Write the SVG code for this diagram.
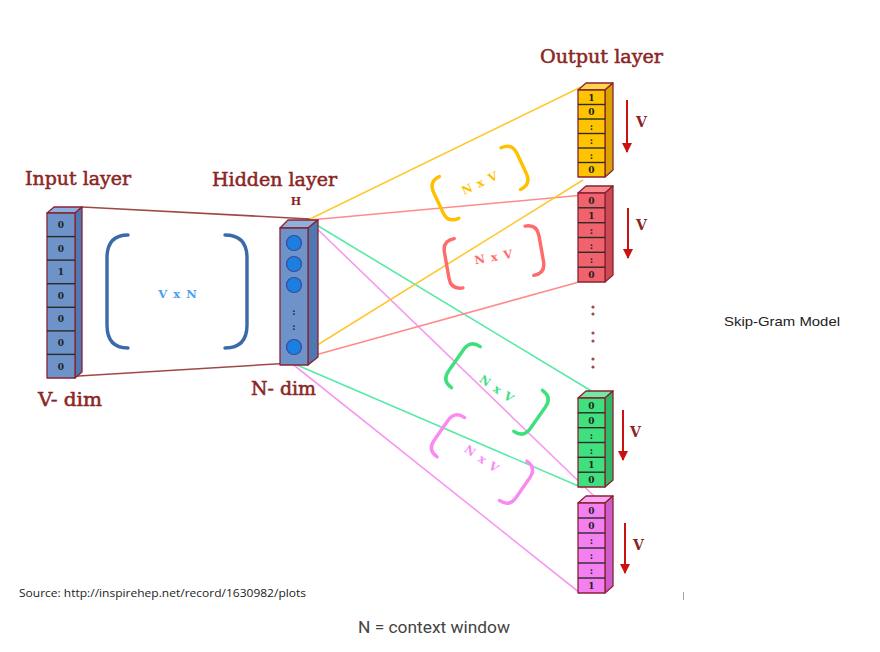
<svg xmlns="http://www.w3.org/2000/svg" width="880" height="652" viewBox="0 0 880 652">
<style>
.title{font-family:"DejaVu Serif","Liberation Serif",serif;font-size:18px;fill:#8b2525;stroke:#8b2525;stroke-width:0.5;}
.dig{font-family:"DejaVu Serif","Liberation Serif",serif;font-size:9px;font-weight:bold;fill:#222;text-anchor:middle;}
.edge{stroke:#8a2232;stroke-width:1.3;stroke-linejoin:round;}
.sep{stroke:#2a2a2a;stroke-width:1.4;}
.br{fill:none;stroke-width:3.4;stroke-linecap:round;}
.brt{font-family:"DejaVu Serif","Liberation Serif",serif;font-size:11.5px;font-weight:bold;text-anchor:middle;letter-spacing:1px;}
.conn{fill:none;stroke-width:1.6;}
.arr{stroke:#cc1111;stroke-width:2;}
.vlab{font-family:"DejaVu Serif","Liberation Serif",serif;font-size:14px;font-weight:bold;fill:#8b2525;}
.dot{fill:#a04a4a;}
</style>
<defs>
<marker id="ah" viewBox="0 0 10 10" refX="9" refY="5" markerWidth="5" markerHeight="6" orient="auto" markerUnits="strokeWidth">
<path d="M0,0 L10,5 L0,10 z" fill="#cc1111"/>
</marker>
</defs>
<rect width="880" height="652" fill="#fff"/>

<g id="connectors">
<line class="conn" x1="82" y1="207" x2="310" y2="219" stroke="#9e4a44" stroke-width="1.5"/>
<line class="conn" x1="62" y1="377" x2="292" y2="363" stroke="#9e4a44" stroke-width="1.5"/>
<line class="conn" x1="310" y1="219" x2="581" y2="87" stroke="#ffc830"/>
<line class="conn" x1="310" y1="220" x2="584" y2="195" stroke="#ff8c8c"/>
<line class="conn" x1="310" y1="221" x2="593" y2="392" stroke="#55eaa5"/>
<line class="conn" x1="310" y1="222" x2="595" y2="497" stroke="#f59af0"/>
<line class="conn" x1="290" y1="362" x2="583" y2="180" stroke="#ffc830"/>
<line class="conn" x1="290" y1="362" x2="579" y2="282" stroke="#ff8c8c"/>
<line class="conn" x1="290" y1="362" x2="583" y2="488" stroke="#55eaa5"/>
<line class="conn" x1="290" y1="362" x2="580" y2="593" stroke="#f59af0"/>
</g>

<g id="input-layer">
<text class="title" x="25" y="185" textLength="106" lengthAdjust="spacingAndGlyphs">Input layer</text>
<polygon class="edge" points="47,213 54,207 82,207 75,213" fill="#8eb0dc"/>
<polygon class="edge" points="75,213 82,207 82,372 75,378" fill="#4f78b2"/>
<rect class="edge" x="47" y="213" width="28" height="165" fill="#6d93c9"/>
<line class="sep" x1="47" y1="236.6" x2="75" y2="236.6"/>
<line class="sep" x1="47" y1="260.1" x2="75" y2="260.1"/>
<line class="sep" x1="47" y1="283.7" x2="75" y2="283.7"/>
<line class="sep" x1="47" y1="307.3" x2="75" y2="307.3"/>
<line class="sep" x1="47" y1="330.9" x2="75" y2="330.9"/>
<line class="sep" x1="47" y1="354.4" x2="75" y2="354.4"/>
<text class="dig" x="61" y="228">0</text>
<text class="dig" x="61" y="252">0</text>
<text class="dig" x="61" y="275">1</text>
<text class="dig" x="61" y="299">0</text>
<text class="dig" x="61" y="322">0</text>
<text class="dig" x="61" y="346">0</text>
<text class="dig" x="61" y="370">0</text>
<text class="title" x="38" y="406" textLength="64" lengthAdjust="spacingAndGlyphs">V- dim</text>
</g>

<g id="weights-vxn">
<path class="br" stroke="#3b6aa8" d="M128,235 Q107,235 107,258 L107,325 Q107,348 128,348"/>
<path class="br" stroke="#3b6aa8" d="M225,235 Q247,235 247,258 L247,325 Q247,348 225,348"/>
<text class="brt" x="178" y="298" fill="#4a9ff0">V x N</text>
</g>

<g id="hidden-layer">
<text class="title" x="212" y="186" textLength="125" lengthAdjust="spacingAndGlyphs">Hidden layer</text>
<text x="296" y="205" font-family="DejaVu Serif, Liberation Serif, serif" font-size="11" font-weight="bold" fill="#8b2525" text-anchor="middle">H</text>
<polygon class="edge" points="280,228 288,220 318,220 308,228" fill="#8eb0dc"/>
<polygon class="edge" points="308,228 318,220 318,357 308,365" fill="#4f78b2"/>
<rect class="edge" x="280" y="228" width="28" height="137" fill="#6d93c9"/>
<circle cx="294" cy="243" r="7.5" fill="#1a7fe0" stroke="#3b4a9a" stroke-width="1.2"/>
<circle cx="294" cy="264" r="7.5" fill="#1a7fe0" stroke="#3b4a9a" stroke-width="1.2"/>
<circle cx="294" cy="285" r="7.5" fill="#1a7fe0" stroke="#3b4a9a" stroke-width="1.2"/>
<circle cx="294" cy="347" r="7.5" fill="#1a7fe0" stroke="#3b4a9a" stroke-width="1.2"/>
<text class="dig" x="294" y="315" fill="#3a3a6a">:</text>
<text class="dig" x="294" y="330" fill="#3a3a6a">:</text>
<text class="title" x="251" y="395" textLength="65" lengthAdjust="spacingAndGlyphs">N- dim</text>
</g>

<g id="weights-yellow" transform="translate(480,183) rotate(-25)">
<path class="br" stroke="#ffc000" d="M-34,-23 Q-46,-23 -46,-11 L-46,11 Q-46,23 -34,23"/>
<path class="br" stroke="#ffc000" d="M34,-23 Q46,-23 46,-11 L46,11 Q46,23 34,23"/>
<text class="brt" x="0" y="4" fill="#ffc000">N x V</text>
</g>
<g id="weights-red" transform="translate(494,257) rotate(-10)">
<path class="br" stroke="#ff6a6a" d="M-36,-25 Q-48,-25 -48,-13 L-48,13 Q-48,25 -36,25"/>
<path class="br" stroke="#ff6a6a" d="M36,-25 Q48,-25 48,-13 L48,13 Q48,25 36,25"/>
<text class="brt" x="0" y="4" fill="#ff6a6a">N x V</text>
</g>
<g id="weights-green" transform="translate(497,389) rotate(35)">
<path class="br" stroke="#3ee07e" d="M-38,-25 Q-50,-25 -50,-13 L-50,13 Q-50,25 -38,25"/>
<path class="br" stroke="#3ee07e" d="M38,-25 Q50,-25 50,-13 L50,13 Q50,25 38,25"/>
<text class="brt" x="0" y="4" fill="#3ee07e">N x V</text>
</g>
<g id="weights-pink" transform="translate(482,459) rotate(35)">
<path class="br" stroke="#f98af0" d="M-38,-24 Q-50,-24 -50,-12 L-50,12 Q-50,24 -38,24"/>
<path class="br" stroke="#f98af0" d="M38,-24 Q50,-24 50,-12 L50,12 Q50,24 38,24"/>
<text class="brt" x="0" y="4" fill="#f98af0">N x V</text>
</g>

<text class="title" x="540" y="63" textLength="123" lengthAdjust="spacingAndGlyphs">Output layer</text>

<g id="output-yellow">
<polygon class="edge" points="578,90 586,83 613,83 605,90" fill="#ffd54a"/>
<polygon class="edge" points="605,90 613,83 613,170 605,177" fill="#d8a300"/>
<rect class="edge" x="578" y="90" width="27" height="87" fill="#ffc400"/>
<line class="sep" x1="578" y1="104.5" x2="605" y2="104.5"/>
<line class="sep" x1="578" y1="119" x2="605" y2="119"/>
<line class="sep" x1="578" y1="133.5" x2="605" y2="133.5"/>
<line class="sep" x1="578" y1="148" x2="605" y2="148"/>
<line class="sep" x1="578" y1="162.5" x2="605" y2="162.5"/>
<text class="dig" x="591.5" y="101">1</text>
<text class="dig" x="591.5" y="115">0</text>
<text class="dig" x="591.5" y="130">:</text>
<text class="dig" x="591.5" y="144">:</text>
<text class="dig" x="591.5" y="159">:</text>
<text class="dig" x="591.5" y="173">0</text>
<line class="arr" x1="627" y1="100" x2="627" y2="152" marker-end="url(#ah)"/>
<text class="vlab" x="636" y="127">V</text>
</g>

<g id="output-red">
<polygon class="edge" points="578,193 586,186 613,186 605,193" fill="#f7898f"/>
<polygon class="edge" points="605,193 613,186 613,275 605,282" fill="#cc4a55"/>
<rect class="edge" x="578" y="193" width="27" height="89" fill="#f0636c"/>
<line class="sep" x1="578" y1="207.8" x2="605" y2="207.8"/>
<line class="sep" x1="578" y1="222.7" x2="605" y2="222.7"/>
<line class="sep" x1="578" y1="237.5" x2="605" y2="237.5"/>
<line class="sep" x1="578" y1="252.3" x2="605" y2="252.3"/>
<line class="sep" x1="578" y1="267.2" x2="605" y2="267.2"/>
<text class="dig" x="591.5" y="204">0</text>
<text class="dig" x="591.5" y="219">1</text>
<text class="dig" x="591.5" y="234">:</text>
<text class="dig" x="591.5" y="249">:</text>
<text class="dig" x="591.5" y="263">:</text>
<text class="dig" x="591.5" y="278">0</text>
<line class="arr" x1="628" y1="208" x2="628" y2="258" marker-end="url(#ah)"/>
<text class="vlab" x="636" y="230">V</text>
</g>

<g id="output-ellipsis">
<circle class="dot" cx="593" cy="307" r="1.6"/>
<circle class="dot" cx="593" cy="314" r="1.6"/>
<circle class="dot" cx="593" cy="333" r="1.6"/>
<circle class="dot" cx="593" cy="341" r="1.6"/>
<circle class="dot" cx="593" cy="359" r="1.6"/>
<circle class="dot" cx="593" cy="367" r="1.6"/>
</g>

<g id="output-green">
<polygon class="edge" points="578,398 586,391 613,391 605,398" fill="#6fe9a3"/>
<polygon class="edge" points="605,398 613,391 613,480 605,487" fill="#2fb866"/>
<rect class="edge" x="578" y="398" width="27" height="89" fill="#40e07f"/>
<line class="sep" x1="578" y1="412.8" x2="605" y2="412.8"/>
<line class="sep" x1="578" y1="427.7" x2="605" y2="427.7"/>
<line class="sep" x1="578" y1="442.5" x2="605" y2="442.5"/>
<line class="sep" x1="578" y1="457.3" x2="605" y2="457.3"/>
<line class="sep" x1="578" y1="472.2" x2="605" y2="472.2"/>
<text class="dig" x="591.5" y="409">0</text>
<text class="dig" x="591.5" y="424">0</text>
<text class="dig" x="591.5" y="439">:</text>
<text class="dig" x="591.5" y="454">:</text>
<text class="dig" x="591.5" y="468">1</text>
<text class="dig" x="591.5" y="483">0</text>
<line class="arr" x1="623" y1="410" x2="623" y2="460" marker-end="url(#ah)"/>
<text class="vlab" x="630" y="437">V</text>
</g>

<g id="output-pink">
<polygon class="edge" points="578,503 586,496 613,496 605,503" fill="#f8a8f4"/>
<polygon class="edge" points="605,503 613,496 613,586 605,593" fill="#cf5ccd"/>
<rect class="edge" x="578" y="503" width="27" height="90" fill="#f47ff0"/>
<line class="sep" x1="578" y1="518" x2="605" y2="518"/>
<line class="sep" x1="578" y1="533" x2="605" y2="533"/>
<line class="sep" x1="578" y1="548" x2="605" y2="548"/>
<line class="sep" x1="578" y1="563" x2="605" y2="563"/>
<line class="sep" x1="578" y1="578" x2="605" y2="578"/>
<text class="dig" x="591.5" y="514">0</text>
<text class="dig" x="591.5" y="529">0</text>
<text class="dig" x="591.5" y="544">:</text>
<text class="dig" x="591.5" y="559">:</text>
<text class="dig" x="591.5" y="574">:</text>
<text class="dig" x="591.5" y="589">1</text>
<line class="arr" x1="625" y1="523" x2="625" y2="573" marker-end="url(#ah)"/>
<text class="vlab" x="633" y="550">V</text>
</g>

<text x="724" y="326" font-family="Liberation Sans, Arial, sans-serif" font-size="13" fill="#222" textLength="116" lengthAdjust="spacingAndGlyphs">Skip-Gram Model</text>
<text x="19" y="597" font-family="Open Sans, Liberation Sans, sans-serif" font-size="10.5" fill="#222" textLength="287" lengthAdjust="spacingAndGlyphs">Source: http://inspirehep.net/record/1630982/plots</text>
<line x1="683.5" y1="592" x2="683.5" y2="600" stroke="#9aaac0" stroke-width="1"/>
<text x="358" y="633" font-family="Roboto, Open Sans, sans-serif" font-size="16" fill="#444" textLength="152" lengthAdjust="spacingAndGlyphs">N = context window</text>
</svg>
